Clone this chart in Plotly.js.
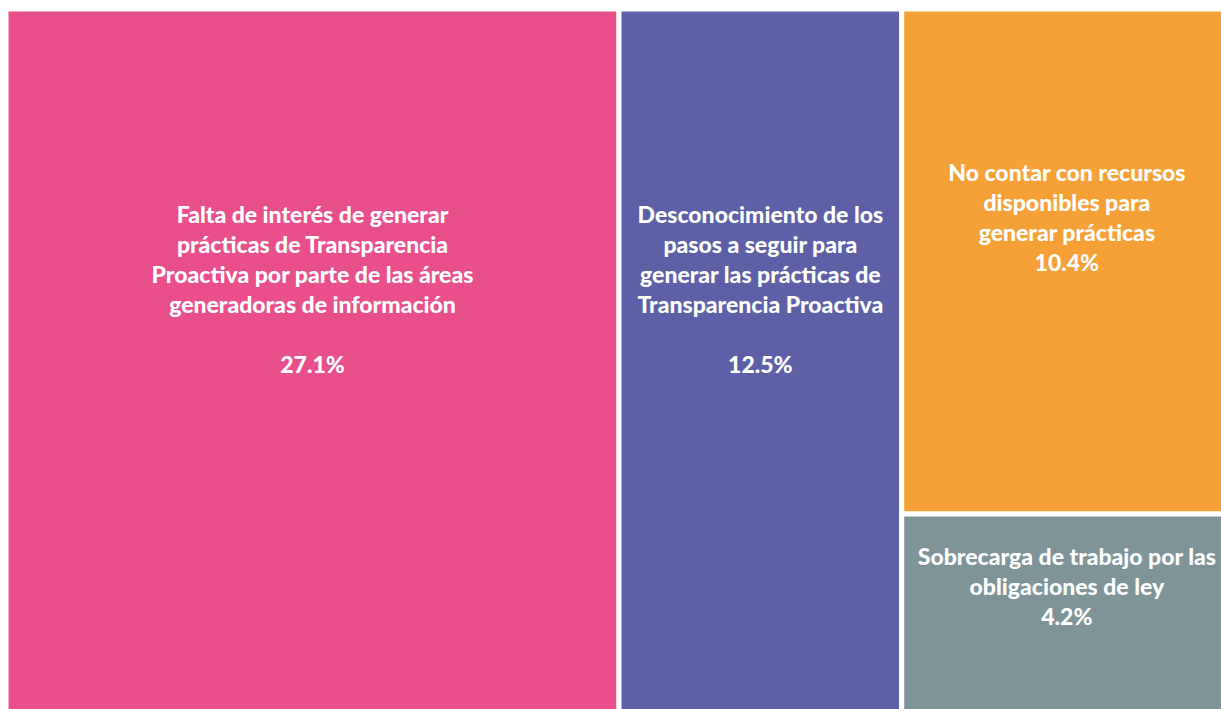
<!DOCTYPE html>
<html>
<head>
<meta charset="utf-8">
<script src="https://cdn.plot.ly/plotly-3.0.1.min.js"></script>
<style>
  html, body { margin: 0; padding: 0; background: #ffffff; overflow: hidden; }
  #chart { width: 1232px; height: 718px; }
</style>
</head>
<body>
<div id="chart"></div>
<script>
// ---- data ----
const categories = [
  "Falta de interés de generar prácticas de Transparencia Proactiva por parte de las áreas generadoras de información",
  "Desconocimiento de los pasos a seguir para generar las prácticas de Transparencia Proactiva",
  "No contar con recursos disponibles para generar prácticas",
  "Sobrecarga de trabajo por las obligaciones de ley"
];
const wrappedLabels = [
  "Falta de interés de generar<br>prácticas de Transparencia<br>Proactiva por parte de las áreas<br>generadoras de información",
  "Desconocimiento de los<br>pasos a seguir para<br>generar las prácticas de<br>Transparencia Proactiva",
  "No contar con recursos<br>disponibles para<br>generar prácticas",
  "Sobrecarga de trabajo por las<br>obligaciones de ley"
];
const percentages = [27.1, 12.5, 10.4, 4.2];
const groupOf = ["", "", "derecha", "derecha"];   // last two share a column
const colors = ["#E94F8B", "#5D60A6", "#F5A137", "#7D9598"];

// ---- presentation helpers (not data) ----
const gapLines = [1, 1, 0, 0];      // blank lines between label and value
const liftLines = [5, 5, 3, 2];     // trailing blank lines to lift text above centre

const ids = [], labels = [], parents = [], values = [], texts = [], markerColors = [];
// invisible grouping node for the right-hand column
ids.push("derecha"); labels.push(" "); parents.push(""); values.push(0);
texts.push(""); markerColors.push("#ffffff");
categories.forEach((c, i) => {
  ids.push("c" + i);
  labels.push(c);
  parents.push(groupOf[i]);
  values.push(percentages[i]);
  let t = wrappedLabels[i] + "<br>";
  for (let k = 0; k < gapLines[i]; k++) t += "\u00a0<br>";
  t += percentages[i].toFixed(1) + "%";
  for (let k = 0; k < liftLines[i]; k++) t += "<br>\u00a0";
  texts.push(t);
  markerColors.push(colors[i]);
});
// reorder so the group comes after the first two columns
const order = [1, 2, 0, 3, 4];
const pick = arr => order.map(j => arr[j]);

const trace = {
  type: "treemap",
  ids: pick(ids),
  labels: pick(labels),
  parents: pick(parents),
  values: pick(values),
  text: pick(texts),
  branchvalues: "remainder",
  sort: false,
  texttemplate: "%{text}",
  textposition: "middle center",
  hoverinfo: "label+value",
  textfont: { family: "Lato, 'Open Sans', sans-serif", size: 23, color: "#ffffff", weight: 900 },
  marker: {
    colors: pick(markerColors),
    line: { color: "#ffffff", width: 5 },
    pad: { t: 0, l: 0, r: 0, b: 0 },
    cornerradius: 3
  },
  tiling: { packing: "slice-dice", pad: 0 },
  pathbar: { visible: false },
  root: { color: "#ffffff" }
};

const layout = {
  margin: { l: 6, r: 0, t: 9, b: 0 },
  paper_bgcolor: "#ffffff",
  showlegend: false,
  uniformtext: { mode: false }
};

Plotly.newPlot("chart", [trace], layout, { displayModeBar: false, staticPlot: true });
</script>
</body>
</html>
